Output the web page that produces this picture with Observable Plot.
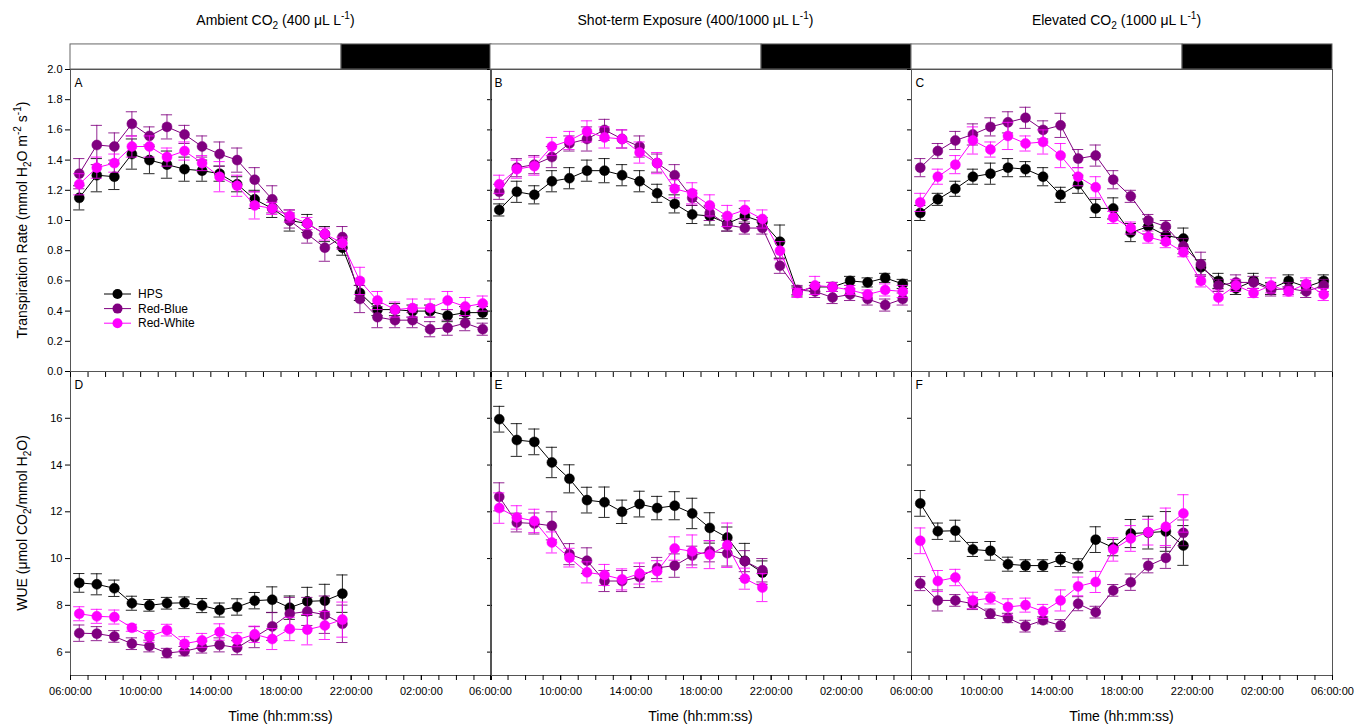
<!DOCTYPE html>
<html><head><meta charset="utf-8">
<script src="https://cdn.jsdelivr.net/npm/d3@7"></script>
<script src="https://cdn.jsdelivr.net/npm/@observablehq/plot@0.6"></script>
<style>
body{margin:0;background:#fff;font-family:"Liberation Sans",Arial,sans-serif;}
#chart{position:relative;width:1369px;height:726px;overflow:hidden;background:#fff;}
#chart svg{position:absolute;max-width:none;}
.t{position:absolute;font-size:14px;color:#000;white-space:nowrap;transform:translate(-50%,-50%);}
.yl{position:absolute;font-size:14px;color:#000;white-space:nowrap;transform:translate(-50%,-50%) rotate(-90deg);}
sub,sup{font-size:72%;line-height:0;}
</style></head><body><div id="chart"></div>
<script>
// ---------- data ----------
const seriesNames = ["HPS", "Red-Blue", "Red-White"];
const seriesColors = ["#000000", "#800080", "#ff00ff"];
const panelTitles = ["Ambient CO<sub>2</sub> (400 μL L<sup>-1</sup>)", "Shot-term Exposure (400/1000 μL L<sup>-1</sup>)", "Elevated CO<sub>2</sub> (1000 μL L<sup>-1</sup>)"];
const topLetters = ["A", "B", "C"];
const bottomLetters = ["D", "E", "F"];
// hours after 06:00 of each measurement (06:30, 07:30, ...)
const hoursTop = [0.5,1.5,2.5,3.5,4.5,5.5,6.5,7.5,8.5,9.5,10.5,11.5,12.5,13.5,14.5,15.5,16.5,17.5,18.5,19.5,20.5,21.5,22.5,23.5];
const hoursBottom = [0.5,1.5,2.5,3.5,4.5,5.5,6.5,7.5,8.5,9.5,10.5,11.5,12.5,13.5,14.5,15.5];
const lightStart = 0, darkStart = 15.45, dayEnd = 24;
const xMajorTicks = [0,4,8,12,16,20,24];
const xMinorTicks = [0,1,2,3,4,5,6,7,8,9,10,11,12,13,14,15,16,17,18,19,20,21,22,23,24];
const yTicksTop = [0,0.2,0.4,0.6,0.8,1.0,1.2,1.4,1.6,1.8,2.0];
const yTicksBottom = [6,8,10,12,14,16];

// Transpiration rate (mmol H2O m-2 s-1)
const A_HPS = [1.15,1.30,1.29,1.44,1.40,1.37,1.34,1.33,1.31,1.24,1.14,1.08,1.00,0.98,0.91,0.82,0.52,0.41,0.41,0.40,0.40,0.37,0.39,0.39];
const A_RB  = [1.31,1.50,1.49,1.64,1.56,1.62,1.57,1.49,1.44,1.40,1.27,1.14,1.00,0.91,0.82,0.89,0.48,0.36,0.34,0.34,0.28,0.29,0.32,0.28];
const A_RW  = [1.24,1.35,1.38,1.49,1.49,1.42,1.46,1.38,1.29,1.23,1.10,1.08,1.03,0.98,0.91,0.85,0.60,0.47,0.41,0.42,0.42,0.47,0.43,0.45];
const B_HPS = [1.07,1.19,1.17,1.26,1.28,1.33,1.33,1.30,1.26,1.18,1.11,1.04,1.03,0.98,1.03,0.99,0.86,0.53,0.56,0.56,0.60,0.59,0.62,0.58];
const B_RB  = [1.19,1.35,1.37,1.42,1.51,1.54,1.60,1.54,1.49,1.38,1.30,1.15,1.05,0.97,0.95,0.95,0.70,0.54,0.53,0.49,0.51,0.48,0.44,0.48];
const B_RW  = [1.24,1.34,1.36,1.49,1.53,1.59,1.55,1.54,1.45,1.38,1.21,1.18,1.10,1.03,1.07,1.01,0.80,0.52,0.57,0.56,0.54,0.51,0.54,0.53];
const C_HPS = [1.05,1.14,1.21,1.29,1.31,1.35,1.34,1.29,1.17,1.24,1.08,1.08,0.92,0.96,0.90,0.88,0.69,0.60,0.55,0.60,0.55,0.60,0.56,0.60];
const C_RB  = [1.35,1.46,1.53,1.57,1.62,1.65,1.68,1.60,1.63,1.41,1.43,1.27,1.16,1.00,0.96,0.83,0.71,0.57,0.59,0.59,0.54,0.55,0.53,0.57];
const C_RW  = [1.12,1.29,1.37,1.53,1.47,1.56,1.51,1.52,1.43,1.29,1.22,1.02,0.95,0.89,0.86,0.79,0.60,0.49,0.57,0.52,0.57,0.53,0.58,0.51];
// standard errors
const A_HPS_se = [0.08,0.11,0.085,0.1,0.09,0.09,0.08,0.07,0.05,0.05,0.06,0.06,0.07,0.06,0.05,0.05,0.05,0.04,0.04,0.04,0.04,0.04,0.04,0.04];
const A_RB_se  = [0.1,0.13,0.09,0.08,0.06,0.08,0.06,0.07,0.08,0.08,0.08,0.09,0.05,0.06,0.09,0.07,0.09,0.07,0.05,0.05,0.05,0.05,0.05,0.04];
const A_RW_se  = [0.07,0.07,0.06,0.07,0.07,0.06,0.06,0.05,0.1,0.07,0.09,0.04,0.04,0.04,0.04,0.04,0.09,0.06,0.05,0.06,0.06,0.06,0.06,0.05];
const B_HPS_se = [0.04,0.07,0.06,0.07,0.07,0.07,0.08,0.07,0.07,0.06,0.06,0.06,0.06,0.05,0.05,0.03,0.11,0.03,0.03,0.03,0.03,0.03,0.03,0.03];
const B_RB_se  = [0.05,0.06,0.06,0.07,0.05,0.08,0.07,0.06,0.07,0.06,0.07,0.05,0.05,0.04,0.04,0.04,0.05,0.03,0.04,0.04,0.04,0.04,0.04,0.04];
const B_RW_se  = [0.06,0.06,0.06,0.06,0.06,0.07,0.07,0.06,0.07,0.07,0.06,0.07,0.07,0.07,0.06,0.06,0.06,0.03,0.06,0.03,0.03,0.03,0.04,0.04];
const C_HPS_se = [0.05,0.04,0.05,0.05,0.07,0.06,0.05,0.06,0.05,0.06,0.06,0.07,0.06,0.05,0.05,0.07,0.05,0.05,0.04,0.05,0.04,0.04,0.04,0.04];
const C_RB_se  = [0.06,0.05,0.06,0.07,0.06,0.07,0.07,0.06,0.08,0.06,0.07,0.06,0.04,0.04,0.04,0.05,0.08,0.04,0.05,0.04,0.04,0.04,0.04,0.04];
const C_RW_se  = [0.06,0.05,0.06,0.09,0.05,0.09,0.05,0.08,0.08,0.06,0.07,0.04,0.04,0.04,0.04,0.03,0.04,0.05,0.04,0.03,0.05,0.03,0.04,0.04];

// WUE (umol CO2 / mmol H2O)
const D_HPS = [8.96,8.90,8.73,8.09,8.00,8.09,8.11,7.99,7.80,7.93,8.20,8.24,7.90,8.17,8.20,8.50];
const D_RB  = [6.81,6.79,6.67,6.36,6.26,5.96,6.04,6.21,6.31,6.19,6.64,7.10,7.64,7.74,7.60,7.21];
const D_RW  = [7.64,7.53,7.50,7.04,6.67,6.94,6.36,6.50,6.86,6.53,6.76,6.56,6.99,6.96,7.14,7.39];
const E_HPS = [15.96,15.07,14.99,14.11,13.41,12.50,12.41,12.00,12.33,12.16,12.26,11.93,11.31,10.90,9.90,9.40];
const E_RB  = [12.64,11.54,11.50,11.40,10.19,9.91,9.04,9.04,9.21,9.60,9.70,10.13,10.31,10.23,9.89,9.50];
const E_RW  = [12.16,11.76,11.61,10.69,10.04,9.41,9.30,9.11,9.36,9.46,10.43,10.31,10.17,10.57,9.14,8.76];
const F_HPS = [12.36,11.17,11.19,10.39,10.33,9.76,9.70,9.70,9.96,9.69,10.81,10.47,11.07,11.11,11.16,10.56];
const F_RB  = [8.93,8.21,8.21,8.07,7.64,7.46,7.11,7.36,7.14,8.07,7.71,8.64,8.99,9.69,10.03,11.10];
const F_RW  = [10.76,9.04,9.19,8.21,8.31,7.93,8.01,7.74,8.21,8.81,9.00,10.39,10.86,11.13,11.36,11.93];
const D_HPS_se = [0.4,0.45,0.35,0.3,0.25,0.25,0.25,0.3,0.3,0.35,0.35,0.55,0.5,0.6,0.7,0.8];
const D_RB_se  = [0.35,0.3,0.25,0.25,0.25,0.2,0.2,0.25,0.3,0.3,0.45,0.6,0.7,0.6,0.8,0.8];
const D_RW_se  = [0.3,0.3,0.3,0.15,0.25,0.25,0.3,0.3,0.35,0.3,0.35,0.45,0.5,0.65,0.6,0.75];
const E_HPS_se = [0.55,0.7,0.55,0.65,0.6,0.55,0.65,0.5,0.55,0.5,0.6,0.65,0.65,0.45,0.75,0.5];
const E_RB_se  = [0.6,0.4,0.45,0.6,0.45,0.55,0.45,0.45,0.45,0.45,0.5,0.4,0.45,0.55,0.45,0.5];
const E_RW_se  = [0.65,0.5,0.5,0.45,0.4,0.45,0.45,0.45,0.45,0.45,0.5,0.7,0.6,0.95,0.45,0.6];
const F_HPS_se = [0.55,0.35,0.45,0.3,0.4,0.3,0.25,0.25,0.3,0.3,0.55,0.35,0.6,0.7,0.85,0.85];
const F_RB_se  = [0.3,0.45,0.25,0.25,0.2,0.2,0.25,0.15,0.25,0.3,0.25,0.25,0.35,0.3,0.45,0.55];
const F_RW_se  = [0.55,0.45,0.35,0.35,0.25,0.35,0.3,0.3,0.45,0.4,0.45,0.5,0.55,0.55,0.8,0.8];

// ---------- helpers ----------
const fmtHour = h => String((6 + h) % 24).padStart(2, "0") + ":00:00";
function rows(hours, vals, errs) { return vals.map((v, i) => ({x: hours[i], v, e: errs[i]})); }
const chart = document.getElementById("chart");
const FONT = '"Liberation Sans", Arial, sans-serif';
const frameLefts = [70, 490, 911];
const FW = 421, ML = 70, MR = 45;
const TOP_FRAME = 69, MID = 371, BOT_FRAME = 675;
const BAR_TOP = 2.166; // light bar drawn above y = 2.0

function makePanel(cfg) {
  const marks = [];
  if (cfg.light) {
    const lightData = [{start: lightStart, end: darkStart, fill: "#ffffff"}, {start: darkStart, end: dayEnd, fill: "#000000"}];
    marks.push(Plot.rect(lightData, {x1: "start", x2: "end", y1: () => 2.0, y2: () => BAR_TOP, fill: "fill", stroke: "#666", strokeWidth: 1}));
  }
  marks.push(Plot.frame({stroke: "#555", strokeWidth: 1}));
  cfg.series.forEach((s, k) => {
    const c = seriesColors[k];
    marks.push(Plot.ruleX(s, {x: "x", y1: d => d.v - d.e, y2: d => d.v + d.e, stroke: c, strokeWidth: 1, strokeOpacity: 0.85}));
    marks.push(Plot.ruleY(s, {x1: d => d.x - 0.32, x2: d => d.x + 0.32, y: d => d.v + d.e, stroke: c, strokeWidth: 1, strokeOpacity: 0.85}));
    marks.push(Plot.ruleY(s, {x1: d => d.x - 0.32, x2: d => d.x + 0.32, y: d => d.v - d.e, stroke: c, strokeWidth: 1, strokeOpacity: 0.85}));
    marks.push(Plot.line(s, {x: "x", y: "v", stroke: c, strokeWidth: 1}));
    marks.push(Plot.dot(s, {x: "x", y: "v", r: 5, fill: c, stroke: c, strokeWidth: 0.5}));
  });
  const yfmt = cfg.yFormat;
  if (cfg.yLabels) marks.push(Plot.axisY({ticks: cfg.yTicks, tickFormat: yfmt, tickSize: 5, tickPadding: 3, fontSize: 11, label: null}));
  if (cfg.rightTicks) marks.push(Plot.axisY({anchor: "right", ticks: cfg.yTicks, tickSize: -5, tickFormat: () => "", label: null}));
  if (cfg.xAxis) {
    marks.push(Plot.axisX({ticks: xMinorTicks, tickSize: 5, tickFormat: () => "", label: null}));
    marks.push(Plot.axisX({ticks: cfg.xLabelTicks, tickSize: 5, tickPadding: 7, tickFormat: fmtHour, fontSize: 11, label: null}));
    marks.push(Plot.axisX({anchor: "top", ticks: xMinorTicks, tickSize: -5, tickFormat: () => "", label: null}));
  }
  marks.push(Plot.text([cfg.letter], {text: d => d, frameAnchor: "top-left", dx: 4, dy: 9, fontSize: 12, fill: "#000"}));
  const svg = Plot.plot({
    width: ML + FW + MR,
    height: cfg.mt + (cfg.bottom - cfg.top) + cfg.mb,
    marginLeft: ML, marginRight: MR, marginTop: cfg.mt, marginBottom: cfg.mb,
    x: {domain: [0, 24], axis: null},
    y: {domain: cfg.yDomain, axis: null},
    style: {background: "transparent", fontFamily: FONT, fontSize: "11px", overflow: "visible", color: "#000"},
    marks
  });
  svg.style.left = (cfg.frameLeft - ML) + "px";
  svg.style.top = (cfg.top - cfg.mt) + "px";
  chart.appendChild(svg);
}

const topData = [[A_HPS, A_HPS_se, A_RB, A_RB_se, A_RW, A_RW_se], [B_HPS, B_HPS_se, B_RB, B_RB_se, B_RW, B_RW_se], [C_HPS, C_HPS_se, C_RB, C_RB_se, C_RW, C_RW_se]];
const botData = [[D_HPS, D_HPS_se, D_RB, D_RB_se, D_RW, D_RW_se], [E_HPS, E_HPS_se, E_RB, E_RB_se, E_RW, E_RW_se], [F_HPS, F_HPS_se, F_RB, F_RB_se, F_RW, F_RW_se]];

for (let i = 0; i < 3; i++) {
  const td = topData[i];
  makePanel({
    frameLeft: frameLefts[i], top: TOP_FRAME, bottom: MID, mt: 69, mb: 2,
    yDomain: [0, 2], yTicks: yTicksTop, yFormat: d3.format(".1f"),
    yLabels: i === 0, rightTicks: i < 2, xAxis: false, light: true, letter: topLetters[i],
    series: [rows(hoursTop, td[0], td[1]), rows(hoursTop, td[2], td[3]), rows(hoursTop, td[4], td[5])]
  });
}
for (let i = 0; i < 3; i++) {
  const bd = botData[i];
  makePanel({
    frameLeft: frameLefts[i], top: MID, bottom: BOT_FRAME, mt: 10, mb: 40,
    yDomain: [5, 18], yTicks: yTicksBottom, yFormat: d3.format("d"),
    yLabels: i === 0, rightTicks: i < 2, xAxis: true, light: false, letter: bottomLetters[i],
    xLabelTicks: i === 2 ? xMajorTicks : xMajorTicks.slice(0, -1),
    series: [rows(hoursBottom, bd[0], bd[1]), rows(hoursBottom, bd[2], bd[3]), rows(hoursBottom, bd[4], bd[5])]
  });
}

// ---------- texts ----------
function addText(cls, html, x, y) {
  const d = document.createElement("div");
  d.className = cls; d.innerHTML = html;
  d.style.left = x + "px"; d.style.top = y + "px";
  chart.appendChild(d);
}
for (let i = 0; i < 3; i++) {
  const cx = frameLefts[i] + FW / 2;
  addText("t", panelTitles[i], cx - 5, 20);
  addText("t", "Time (hh:mm:ss)", cx, 716);
}
addText("yl", "Transpiration Rate (mmol H<sub>2</sub>O m<sup>-2</sup> s<sup>-1</sup>)", 22, 220);
addText("yl", "WUE (μmol CO<sub>2</sub>/mmol H<sub>2</sub>O)", 22, 523);

// legend
const lg = document.createElementNS("http://www.w3.org/2000/svg", "svg");
lg.setAttribute("width", 110); lg.setAttribute("height", 50);
lg.style.left = "100px"; lg.style.top = "284px";
seriesNames.forEach((n, k) => {
  const y = 10 + k * 14.6;
  lg.innerHTML += `<line x1="4" x2="31" y1="${y}" y2="${y}" stroke="${seriesColors[k]}" stroke-width="1"/>` +
    `<circle cx="17.5" cy="${y}" r="5" fill="${seriesColors[k]}"/>` +
    `<text x="38" y="${y}" dy="0.35em" font-size="12" font-family='${FONT}' fill="#000">${n}</text>`;
});
chart.appendChild(lg);
</script></body></html>
